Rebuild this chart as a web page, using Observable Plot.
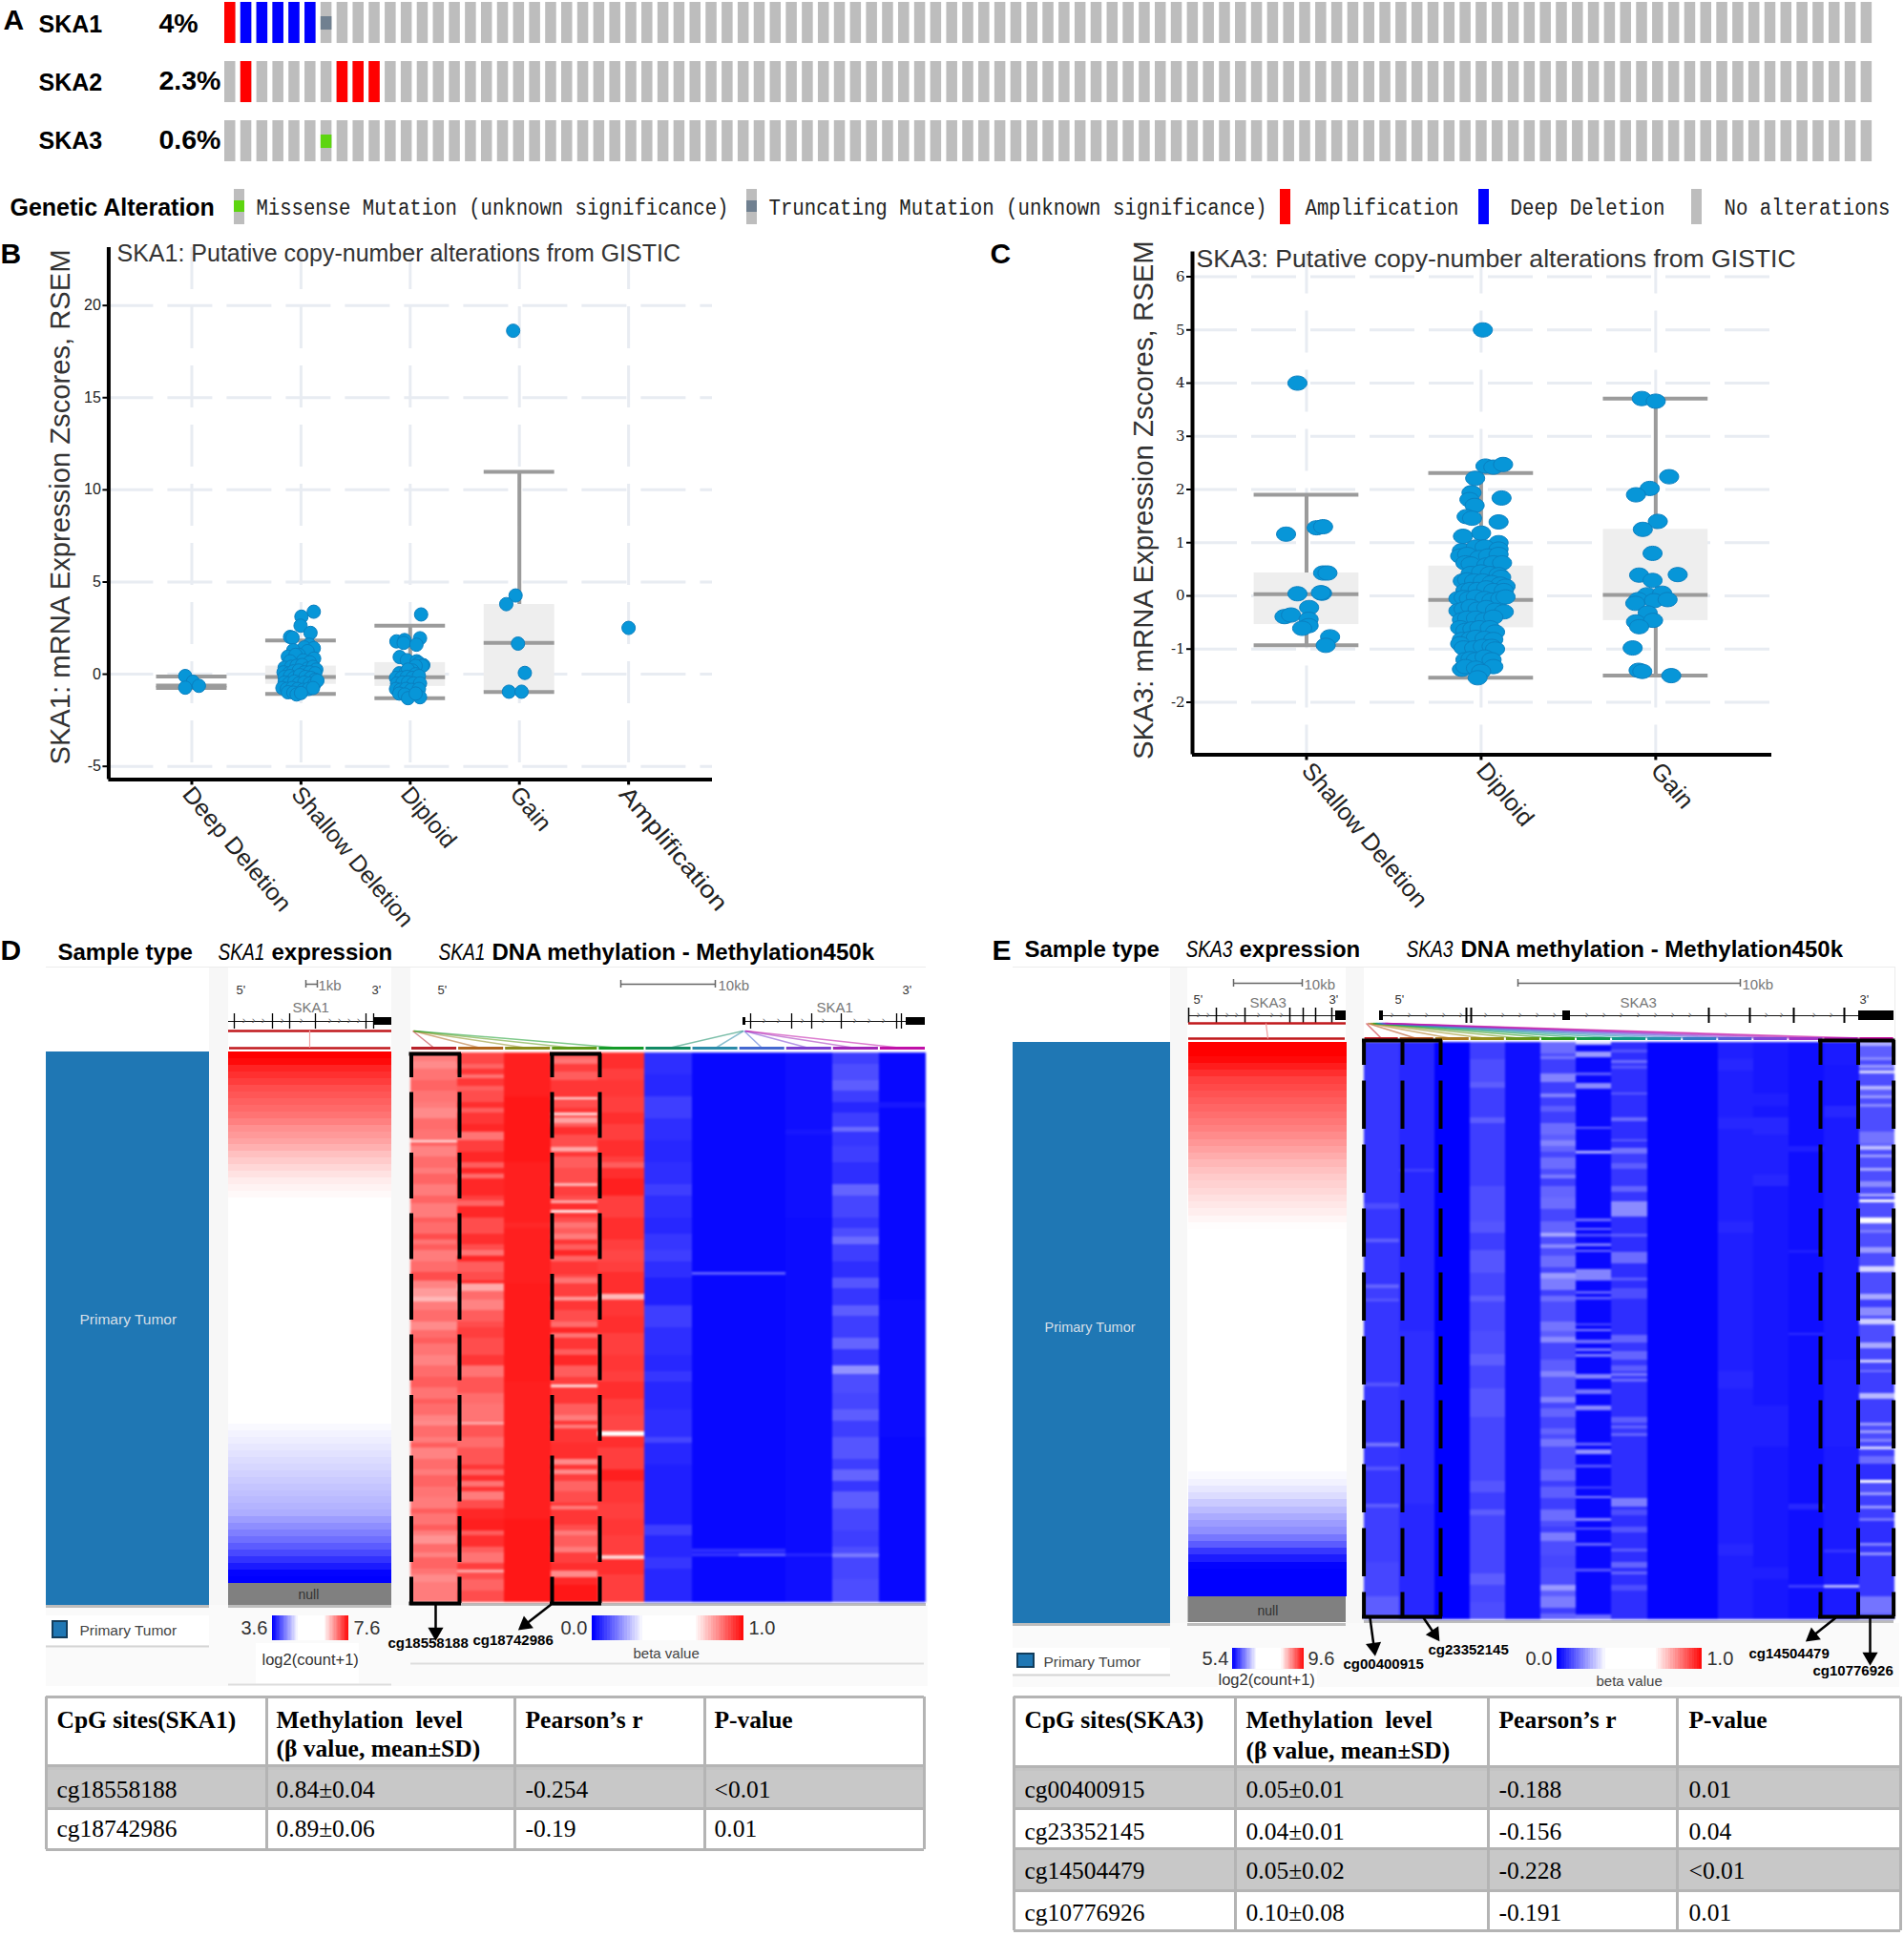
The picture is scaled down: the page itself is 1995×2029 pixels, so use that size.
<!DOCTYPE html>
<html><head><meta charset="utf-8">
<script src="https://cdn.jsdelivr.net/npm/d3@7"></script>
<script src="https://cdn.jsdelivr.net/npm/@observablehq/plot@0.6"></script>
<style>html,body{margin:0;padding:0;background:#fff}#page{position:relative;width:1995px;height:2029px;overflow:hidden}</style>
</head><body><div id="page"></div>
<script>
// ---------- Panel A
const sampleCount = 103;
const genes = ["SKA1","SKA2","SKA3"];
const pctAltered = ["4%","2.3%","0.6%"];
const amplified = [[0,0],[1,1],[1,7],[1,8],[1,9]];
const deepDeleted = [[0,1],[0,2],[0,3],[0,4],[0,5]];
const truncating = [[0,6]];
const missense = [[2,6]];
// ---------- Panel B
const catsB = ["Deep Deletion","Shallow Deletion","Diploid","Gain","Amplification"];
const hiB = [-.12,1.83,2.63,10.98,null];
const q3B = [-.55,.44,.63,3.78,null];
const medB = [-.62,-.15,-.17,1.7,null];
const q1B = [-.68,-.55,-.66,-.97,null];
const loB = [-.75,-1.07,-1.3,-.97,null];
const ptsB0 = [[-.06,-.1],[.01,-.41],[.065,-.63],[-.06,-.73]];
const ptsB1 = [[.117,3.39],[.004,3.12],[-.004,2.63],[.087,2.24],[-.1,2.02],[-.078,1.98],[.074,1.6],[.03,1.45],[.117,1.41],[-.07,1.3],[.06,1.25],[-.02,1.05],[-.12,.95],[-.05,1.05],[.12,.85],[.02,.75],[-.1,.7],[.08,.65],[-.15,.35],[-.09,.4],[-.04,.45],[.01,.5],[.06,.3],[.11,.4],[.14,.25],[-.16,.1],[-.11,.05],[-.07,.15],[-.02,.2],[.03,.1],[.08,.1],[.13,.05],[-.15,-.15],[-.1,-.1],[-.06,-.2],[-.01,-.05],[.04,-.15],[.09,-.2],[.13,-.3],[-.15,-.45],[-.11,-.5],[-.06,-.4],[-.02,-.5],[.03,-.45],[.08,-.5],[.12,-.55],[.15,-.35],[-.17,-.75],[-.13,-.8],[-.08,-.75],[-.03,-.8],[.02,-.85],[.07,-.8],[.11,-.75],[-.12,-.98],[-.07,-1],[-.04,-1.1],[0,-1.02]];
const ptsB2 = [[.1,3.24],[.09,1.95],[-.126,1.78],[-.052,1.85],[-.06,1.7],[.057,1.6],[-.096,.93],[-.03,.76],[.06,.7],[.08,.6],[.12,.49],[.11,.45],[.05,.45],[-.1,.05],[-.04,.1],[.02,.2],[-.02,.25],[.05,0],[-.13,-.2],[-.08,-.2],[-.03,-.15],[.02,-.2],[.08,-.1],[-.12,-.5],[-.07,-.45],[-.02,-.45],[.03,-.5],[.09,-.5],[-.13,-.8],[-.09,-.85],[-.04,-.8],[.01,-.85],[.08,-.8],[-.1,-1.05],[-.05,-1.1],[-.02,-1.3],[.09,-1.25],[.05,-1.05]];
const ptsB3 = [[-.057,18.63],[-.035,4.27],[-.12,3.8],[-.013,1.66],[.05,.07],[-.096,-.95],[.02,-.95]];
const ptsB4 = [[0,2.51]];
// ---------- Panel C
const catsC = ["Shallow Deletion","Diploid","Gain"];
const hiC = [1.9,2.31,3.71];
const q3C = [.43,.56,1.25];
const medC = [.03,-.076,.017];
const q1C = [-.54,-.6,-.465];
const loC = [-.93,-1.54,-1.5];
const ptsC0 = [[-.052,4],[-.117,1.16],[.058,1.28],[.095,1.3],[.095,.43],[.12,.43],[-.052,.04],[.089,.05],[.082,.06],[.015,-.22],[-.126,-.39],[-.089,-.36],[.012,-.44],[.012,-.56],[-.025,-.61],[.135,-.77],[.11,-.93]];
const ptsC1 = [[.01,5],[.025,2.44],[.07,2.42],[.126,2.47],[-.034,2.21],[-.055,1.94],[-.067,1.81],[.117,1.84],[-.037,1.7],[-.083,1.49],[-.052,1.46],[.1,1.39],[0,1.18],[-.104,1.12],[.1,1],[-.11,.85],[-.03,.92],[.02,.92],[.1,.88],[-.12,.75],[-.08,.78],[-.01,.72],[.04,.75],[.1,.78],[-.09,.62],[-.06,.6],[.03,.58],[.07,.62],[.12,.62],[-.06,.42],[0,.45],[.05,.42],[.1,.4],[.115,.35],[-.105,.28],[-.08,.3],[-.04,.28],[.01,.28],[.06,.25],[.11,.22],[.14,.18],[-.09,.1],[-.06,.12],[-.02,.12],[.03,.15],[.07,.1],[.13,.1],[-.13,-.05],[-.1,-.03],[-.07,-.05],[-.03,-.02],[.02,-.05],[.06,-.08],[.11,-.05],[.14,-.02],[-.13,-.28],[-.1,-.25],[-.06,-.2],[-.02,-.25],[.03,-.22],[.08,-.27],[.13,-.3],[-.11,-.45],[-.08,-.42],[-.03,-.42],[.02,-.45],[.07,-.4],[-.12,-.6],[-.09,-.65],[-.05,-.62],[-.01,-.6],[.05,-.6],[.08,-.68],[-.11,-.82],[-.06,-.8],[-.03,-.78],[.02,-.8],[.07,-.82],[-.12,-.9],[-.1,-.98],[-.04,-.98],[.01,-.95],[.06,-.95],[.08,-1],[-.09,-1.2],[-.06,-1.18],[-.03,-1.2],[.02,-1.15],[.06,-1.2],[.07,-1.33],[-.11,-1.38],[-.09,-1.33],[-.03,-1.36],[0,-1.42],[-.02,-1.54]];
const ptsC2 = [[-.08,3.71],[0,3.66],[.077,2.24],[-.034,2.02],[-.113,1.9],[.012,1.4],[-.074,1.25],[-.018,.8],[-.095,.39],[.126,.4],[-.018,.29],[-.05,.02],[.037,.05],[-.1,-.07],[-.117,-.14],[-.01,-.09],[.068,-.07],[-.046,-.32],[-.113,-.49],[-.015,-.46],[-.095,-.58],[-.132,-.98],[-.098,-1.4],[-.077,-1.42],[.089,-1.5]];
// ---------- Panels D and E: expression, top to bottom
const exprD = [7.6,7.55,7.42,7.35,7.28,7.2,7.15,7.1,7.05,7,6.93,6.85,6.8,6.75,6.68,6.6,6.54,6.48,6.42,6.37,6.33,6.3,
  6.25,6.2,6.15,6.1,6.05,6,5.96,5.92,5.88,5.84,5.8,5.76,5.72,5.68,5.64,5.6,5.56,5.52,5.48,5.44,5.4,5.36,5.32,5.28,5.24,5.2,5.16,5.12,5.08,5.04,5,4.98,4.96,4.94,
  4.9,4.87,4.84,4.81,4.78,4.75,4.72,4.69,4.66,4.63,4.6,4.57,4.54,4.5,4.42,4.34,4.26,4.18,4.08,3.98,3.86,3.74,3.62,3.6];
const exprE = [9.6,9.6,9.55,9.45,9.35,9.25,9.2,9.15,9.1,9.05,9,8.95,8.9,8.84,8.78,8.72,8.66,8.6,8.55,8.5,8.46,8.42,8.38,8.34,8.3,8.26,8.22,
  8.18,8.14,8.1,8.06,8.02,7.98,7.94,7.9,7.86,7.82,7.78,7.74,7.7,7.66,7.62,7.58,7.54,7.5,7.46,7.42,7.38,7.34,7.3,7.26,7.22,7.18,7.14,7.1,7.06,7.02,6.98,6.94,6.9,6.86,6.8,6.76,6.72,
  6.66,6.6,6.5,6.42,6.33,6.25,6.18,6.05,5.9,5.7,5.55,5.42,5.4,5.4,5.4,5.4];
// ---------- methylation columns: runs of [first row, beta], rows 0-100
const dM0 = [[0,.84],[1.5,.82],[3,.85],[5,.87],[7,.85],[9,.84],[10,.82],[12,.86],[14,.85],[16,.7],[16.4,.87],[17,.83],[19,.86],[21,.84],[22,.87],[24,.84],[26,.87],[27.5,.84],[30,.88],[31,.86],[33,.9],[34,.85],[35,.88],[36,.84],[38,.86],[40,.9],[41.5,.83],[43,.8],[44.5,.76],[45.3,.84],[47,.86],[49,.82],[50.5,.86],[52,.88],[53,.85],[55,.83],[57,.86],[59,.88],[61,.85],[63,.88],[64,.86],[66,.83],[67,.82],[68,.86],[70,.84],[71,.88],[72,.83],[74,.86],[76,.84],[77,.87],[79,.85],[81,.84],[83,.88],[84,.85],[86,.88],[87,.84],[88,.81],[89.5,.86],[91,.83],[92,.87],[94,.85],[95,.82],[96.5,.84]];
const dM1 = [[0,.91],[2,.87],[3,.93],[4,.85],[4.7,.93],[6,.88],[7,.9],[9,.94],[10,.88],[11,.93],[13,.95],[14.5,.85],[16,.92],[18,.95],[20,.88],[21,.95],[22,.86],[23,.95],[26,.92],[27,.87],[28,.95],[30,.9],[33,.94],[35,.9],[36,.85],[37,.95],[38,.88],[40,.9],[41.5,.95],[42,.78],[43.5,.86],[45,.83],[47,.88],[49,.9],[50,.92],[52,.9],[55,.93],[57,.85],[59,.89],[62,.86],[64,.85],[67,.87],[67.3,.78],[67.8,.89],[70,.86],[72,.89],[75,.93],[76,.87],[77,.94],[78,.85],[79,.93],[80,.84],[81.5,.9],[83,.95],[85,.96],[87,.88],[88,.94],[90,.88],[91,.85],[93,.92],[94.2,.78],[94.7,.9],[96,.87],[98,.9]];
const dM2 = [[0,.96],[8,.97],[20,.96],[31,.95],[32,.96],[42,.965],[60,.96],[85,.97]];
const dM3 = [[0,.88],[1,.85],[2,.92],[3.5,.88],[5,.93],[8.2,.7],[8.6,.9],[10,.93],[10.9,.72],[11.4,.92],[11.9,.79],[12.8,.88],[13.5,.94],[15,.9],[17.2,.78],[18,.93],[19,.88],[21,.9],[23.8,.76],[24.3,.92],[26,.9],[27,.78],[27.5,.94],[28.7,.7],[29.2,.93],[30,.9],[31,.85],[32,.88],[33,.84],[34,.93],[35,.88],[36,.95],[37,.87],[38,.93],[40.5,.9],[41,.85],[42,.92],[44.5,.8],[45.2,.93],[47,.9],[49,.86],[50,.95],[51,.85],[52,.93],[54,.88],[55,.95],[57,.88],[59,.92],[60.5,.72],[61,.93],[64,.88],[66,.84],[67,.93],[67.8,.84],[68.5,.93],[71,.94],[74,.82],[75,.93],[76,.82],[76.8,.92],[78,.87],[80,.9],[82,.93],[82.5,.84],[83.2,.93],[86,.9],[87,.84],[88,.88],[90,.84],[91,.92],[93,.94],[94.3,.82],[95.5,.95],[97,.97]];
const dM4 = [[0,.94],[3,.92],[5,.93],[8,.92],[11,.94],[13,.92],[16,.94],[19,.92],[20,.88],[21,.94],[23,.96],[26,.92],[30,.94],[34,.92],[36,.91],[38,.92],[40,.94],[44,.76],[45,.93],[48,.94],[51,.92],[55,.93],[58,.92],[60,.94],[63,.92],[66,.91],[69,.67],[69.8,.94],[72,.92],[76,.96],[78,.93],[82,.92],[85,.93],[88,.92],[91.6,.72],[92.2,.94],[95,.92]];
const dM5 = [[0,.06],[4,.05],[8,.08],[12,.06],[16,.05],[20,.06],[24,.08],[26,.06],[30,.05],[33,.07],[36,.08],[38,.06],[41,.04],[46,.08],[50,.06],[55,.05],[58,.07],[60,.05],[65,.06],[70,.09],[71,.05],[75,.04],[82,.04],[86,.08],[88,.05],[92,.07],[94,.05]];
const dM6 = [[0,.01],[40,.12],[40.5,.01],[90.3,.06],[91,.01],[91.2,.07],[91.8,.01]];
const dM7 = [[0,.01],[40,.12],[40.5,.01],[90.3,.06],[91,.01],[91.2,.12],[91.8,.01]];
const dM8 = [[0,.02],[14,.03],[15,.02],[30,.015],[91.3,.05],[91.8,.02]];
const dM9 = [[0,.08],[2,.1],[5,.12],[7,.08],[9,.05],[11,.08],[13.5,.14],[14.5,.07],[17,.08],[20,.06],[24,.13],[26,.09],[30,.07],[32,.1],[33.5,.14],[35,.08],[38,.06],[41,.11],[43,.07],[46,.12],[48,.08],[52,.13],[54,.07],[57,.19],[58.5,.1],[62,.09],[65,.12],[67,.08],[70,.11],[74,.08],[76,.13],[78,.07],[80,.12],[83,.09],[87,.08],[90,.1],[91.3,.16],[92,.09],[96,.1]];
const dM10 = [[0,.01],[9,.03],[10,.01],[45,.015],[70,.01]];
const eM0 = [[0,.07],[28,.1],[29,.07],[34,.12],[34.7,.07],[42,.13],[42.6,.08],[44.4,.11],[45,.07],[59,.11],[59.6,.07],[69.4,.15],[70,.07],[73.6,.11],[74.2,.07],[80,.12],[80.7,.08],[90,.09],[96,.12]];
const eM1 = [[0,.05],[22,.08],[22.4,.05],[50,.06],[80,.05]];
const eM2 = [[0,0]];
const eM3 = [[0,.08],[3,.1],[7,.12],[8,.08],[13,.12],[14,.08],[25,.1],[31,.11],[33,.08],[36,.11],[40,.09],[44,.12],[45,.09],[50,.1],[54,.12],[56,.09],[60,.11],[65,.09],[76,.11],[78,.08],[81,.12],[82,.09],[92,.12],[94,.09],[97,.1]];
const eM4 = [[0,.02]];
const eM5 = [[0,.14],[2,.1],[2.5,.15],[3,.08],[5.5,.17],[7,.08],[9,.17],[9.6,.08],[11,.12],[12,.08],[14,.14],[16,.12],[17,.17],[18,.13],[19,.09],[20,.14],[22,.1],[23,.16],[23.7,.08],[25,.13],[27,.14],[29,.09],[31,.13],[33,.22],[33.7,.1],[35,.18],[35.7,.1],[37,.14],[39,.09],[40,.2],[41,.16],[43,.08],[44,.14],[45,.1],[48.5,.15],[50,.12],[51,.18],[52,.09],[55,.12],[57,.17],[58,.11],[61.5,.17],[62.5,.09],[63.5,.13],[65,.09],[67,.13],[68,.1],[68.7,.15],[70,.1],[74,.13],[76,.08],[77,.12],[79,.08],[81,.14],[83,.1],[84,.08],[85,.16],[86.5,.1],[89,.09],[91,.1],[94,.2],[95,.12],[96,.16],[98,.08],[99,.13]];
const eM6 = [[0,.26],[.5,.01],[1.7,.2],[2.6,.01],[5.3,.12],[5.8,.01],[7.1,.18],[8.1,.01],[14.7,.12],[15.1,.01],[18.8,.22],[19.3,.01],[30.5,.14],[31.1,.01],[32.2,.14],[32.6,.01],[33.3,.1],[33.7,.01],[34.9,.16],[35.4,.01],[36,.14],[36.4,.01],[39.3,.17],[41.4,.01],[43.2,.12],[43.7,.01],[44.2,.12],[44.6,.01],[48.7,.1],[49.1,.01],[49.7,.17],[50.1,.01],[51.5,.14],[52.2,.01],[53,.15],[53.5,.01],[54,.16],[54.5,.01],[57.5,.17],[58.3,.01],[60.2,.15],[61,.01],[63,.18],[63.8,.01],[69.4,.13],[69.9,.01],[70.5,.19],[71.4,.01],[73.3,.11],[73.7,.01],[77,.09],[77.4,.01],[78.6,.17],[79,.01],[82.5,.17],[83,.01],[84.1,.12],[84.5,.01],[86.8,.13],[87.2,.01],[91.3,.11],[91.7,.01],[99.1,.14]];
const eM7 = [[0,.06],[1.4,.11],[1.8,.06],[3.2,.14],[3.7,.07],[4.2,.11],[4.6,.06],[8.7,.12],[9.1,.06],[13.1,.14],[13.7,.06],[16.8,.12],[17.2,.06],[18.4,.15],[19.3,.08],[21,.12],[22,.07],[25,.13],[26,.07],[27.6,.18],[30.2,.06],[33.3,.12],[33.7,.06],[36.3,.14],[38.4,.06],[40.8,.12],[41.4,.06],[42.7,.1],[44.5,.06],[50.8,.13],[52,.07],[53.5,.13],[55,.07],[56,.12],[57,.07],[57.4,.15],[57.8,.07],[58.4,.14],[58.9,.06],[65,.12],[66,.07],[66.5,.13],[66.9,.07],[67.8,.13],[68.2,.06],[79,.16],[80.5,.06],[81,.1],[82,.06],[84,.11],[85,.06],[87.8,.12],[88.2,.06],[90,.13],[91,.06],[91.8,.13],[92.3,.06],[94,.1],[95,.06]];
const eM8 = [[0,.005]];
const eM9 = [[0,.005]];
const eM10 = [[0,.04],[3,.05],[5,.04],[13,.05],[15,.04],[31,.05],[33,.04],[57,.05],[60,.04],[87,.05],[89,.04]];
const eM11 = [[0,.03],[9,.04],[11,.03],[13,.05],[16,.04],[23,.05],[25,.03],[63,.04],[70,.03],[91,.04],[93,.03]];
const eM12 = [[0,.02],[18,.04],[19,.02],[36,.04],[36.5,.02],[50.4,.06],[50.8,.02],[80,.05],[81,.02],[94,.08],[94.5,.02]];
const eM13 = [[0,.035],[4,.03],[11,.05],[13,.035],[55,.04],[70,.035],[88,.07],[88.4,.035],[94,.24],[94.5,.035]];
const eM14 = [[0,.12],[.2,.24],[.7,.12],[2.6,.18],[3.2,.1],[4,.2],[4.4,.12],[5,.28],[5.5,.1],[7.6,.24],[8.2,.12],[9.2,.2],[9.7,.1],[10.8,.18],[11.3,.1],[15.5,.15],[17.5,.13],[18,.25],[18.6,.1],[19.5,.2],[20,.1],[21.8,.22],[22.3,.1],[24.2,.18],[25.2,.1],[26.3,.22],[26.8,.08],[27.3,.33],[27.8,.1],[30.4,.33],[31.4,.12],[32.5,.16],[33,.1],[35.5,.2],[36.5,.1],[38.8,.28],[39.8,.1],[43.7,.22],[44.7,.08],[46,.18],[47.5,.1],[48,.27],[49,.1],[52,.22],[53,.09],[55,.27],[55.6,.09],[56.8,.15],[57.2,.08],[60.8,.24],[61.8,.08],[66,.2],[66.5,.1],[67.2,.2],[67.7,.1],[68.8,.17],[69.2,.09],[70,.28],[70.5,.08],[71.8,.14],[73,.06],[75.9,.33],[76.3,.1],[78,.2],[78.5,.08],[80.4,.2],[80.8,.08],[82.5,.15],[83,.06],[86.8,.17],[87.3,.07],[88.5,.19],[88.9,.07],[96,.15],[99,.12]];
const methD = [dM0,dM1,dM2,dM3,dM4,dM5,dM6,dM7,dM8,dM9,dM10];
const methE = [eM0,eM1,eM2,eM3,eM4,eM5,eM6,eM7,eM8,eM9,eM10,eM11,eM12,eM13,eM14];
// ---------- tables
const headD = ["CpG sites(SKA1)","Methylation  level","Pearson’s r","P-value"];
const headE = ["CpG sites(SKA3)","Methylation  level","Pearson’s r","P-value"];
const headLine2 = "(β value, mean±SD)";
const rowsD = [["cg18558188","0.84±0.04","-0.254","<0.01"],["cg18742986","0.89±0.06","-0.19","0.01"]];
const rowsE = [["cg00400915","0.05±0.01","-0.188","0.01"],["cg23352145","0.04±0.01","-0.156","0.04"],["cg14504479","0.05±0.02","-0.228","<0.01"],["cg10776926","0.10±0.08","-0.191","0.01"]];
const rainbowD = ["#b8222a","#b0641e","#8c8c1c","#5f9a18","#149a28","#128a64","#2a8aa8","#4468d0","#7a40d0","#a028b8","#c010a8"];
const rainbowE = ["#c81e28","#b8501e","#b07a1e","#98901c","#6a981a","#2c9a1e","#129a50","#129a88","#2890b0","#3a78c8","#5a60d8","#8048d8","#a034c8","#b820b4","#c810a0"];
const monoWidths = {"Missense Mutation (unknown significance)":495,"Truncating Mutation (unknown significance)":522,"Amplification":161,"Deep Deletion":162,"No alterations":174};

// ---------- helpers
const page = document.getElementById("page");
const W = 1995, H = 2029;
const SANS = "Liberation Sans", SERIF = "Liberation Serif", MONO = "Liberation Mono";
function put(opts, left, top, extra={}) {
  const svg = Plot.plot({...opts, style:{position:"absolute",left:left+"px",top:top+"px",background:"none",maxWidth:"none",overflow:"visible",...extra}});
  page.appendChild(svg); return svg;
}
function layer(marks) {
  return put({width:W,height:H,margin:0,x:{domain:[0,W],range:[0,W],axis:null},y:{domain:[0,H],range:[0,H],axis:null},marks},0,0);
}
const T = (rows,o={}) => Plot.text(rows,{x:d=>d[1],y:d=>d[2],text:d=>d[0],fontSize:d=>d[3],textAnchor:"start",lineAnchor:"bottom",fontFamily:SANS,fill:"#000",...o});
const R = (rows,fill) => Plot.rect(rows,{x1:d=>d[0],y1:d=>d[1],x2:d=>d[2],y2:d=>d[3],fill});
const HL = (rows,stroke,w,o={}) => Plot.ruleY(rows,{y:d=>d[0],x1:d=>d[1],x2:d=>d[2],stroke,strokeWidth:w,...o});
const VL = (rows,stroke,w,o={}) => Plot.ruleX(rows,{x:d=>d[0],y1:d=>d[1],y2:d=>d[2],stroke,strokeWidth:w,...o});

// ---------- background layer
const table = (xs,ys,fillRows,heads,rows,baseH,baseR,tx) => {
  const x0=xs[0],x1=xs[xs.length-1];
  const m=[];
  m.push(R(fillRows.map(i=>[x0,ys[i+1],x1,ys[i+2]]),"#c8c8c8"));
  m.push(HL([[ys[1]+3,x0,x1]],"#c4c4c4",3));
  ys.forEach(y=>m.push(HL([[y,x0,x1]],"#b4b4b4",3)));
  xs.forEach(x=>m.push(VL([[x,ys[0],ys[ys.length-1]]],"#b4b4b4",3)));
  const cells=[];
  rows.forEach((r,i)=>r.forEach((t,j)=>cells.push([t,tx[j],baseR[i],25.5])));
  m.push(T(cells,{fontFamily:SERIF}));
  m.push(T(heads.map((t,j)=>[t,tx[j],baseH[0],25.5]).concat([[headLine2,tx[1],baseH[1],25.5]]),{fontFamily:SERIF,fontWeight:"bold"}));
  return m;
};
layer([
  R([[48,1682,972,1767]],"#fafafa"),
  R([[219,1013,239,1682],[410,1013,430,1682]],"#f7f7f7"),
  HL([[1013,48,970]],"#ececec",1),
  R([[48,1102,219,1682]],"#1f77b4"),
  HL([[1683,48,219],[1683,239,410],[1681,430,970]],"#bcbcbc",3),
  R([[48,1693,219,1724]],"#ffffff"), HL([[1725,48,219]],"#d4d4d4",2),
  R([[268,1722,376,1765]],"#ffffff"),
  HL([[1743,430,968]],"#dddddd",2), HL([[1765,239,410]],"#dddddd",2),
  R([[1061,1701,1990,1768]],"#fafafa"),
  R([[1226,1013,1244,1701],[1410,1013,1429,1701]],"#f7f7f7"),
  HL([[1013,1061,1985]],"#ececec",1),
  VL([[1985,1013,1090]],"#ececec",1),
  R([[1061,1092,1226,1701]],"#1f77b4"),
  HL([[1702,1061,1226],[1702,1244,1410],[1699,1429,1984]],"#bcbcbc",3),
  R([[1061,1727,1226,1754]],"#ffffff"), HL([[1755,1061,1226]],"#d4d4d4",2),
  R([[1276,1750,1380,1768]],"#ffffff"),
  ...table([48,279,539,738,968],[1778,1850,1895,1938],[0],headD,rowsD,[1810,1840],[1883,1924],[59,289,550,748]),
  ...table([1062,1294,1559,1757,1991],[1778,1851,1895,1937,1981,2023],[0,2],headE,rowsE,[1810,1842],[1883,1927,1968,2012],[1073,1305,1570,1769])
]);

// ---------- Panel A oncoprint
const stepA = 16.81, barA = 11.5/stepA, pitchA = 62;
const allCells = genes.flatMap((g,r)=>d3.range(sampleCount).map(i=>({r,i})));
const cellRect = (data,fill,inner) => Plot.rect(data,{
  x1:d=>d.i, x2:d=>d.i+barA,
  y1:d=>d.r+(inner?.242:0), y2:d=>d.r+(inner?.468:.694), fill});
const asCell = a => a.map(([r,i])=>({r,i}));
put({width:1730,height:170,margin:0,
  x:{domain:[0,1730/stepA],range:[0,1730],axis:null},
  y:{domain:[0,170/pitchA],range:[0,170],axis:null},
  marks:[cellRect(allCells,"#bdbdbd"),cellRect(asCell(amplified),"#ff0000"),cellRect(asCell(deepDeleted),"#0000ff"),
    cellRect(asCell(truncating),"#708090",true),cellRect(asCell(missense),"#5dd50f",true)]},234.7,2);

// ---------- Panels B and C
const gridStyle = {stroke:"#e8ecf2",strokeOpacity:1,strokeWidth:3,strokeDasharray:"44,18"};
const ellipse = {draw(c){const rx=10,ry=7.5,k=.5523;c.moveTo(rx,0);c.bezierCurveTo(rx,k*ry,k*rx,ry,0,ry);c.bezierCurveTo(-k*rx,ry,-rx,k*ry,-rx,0);c.bezierCurveTo(-rx,-k*ry,-k*rx,-ry,0,-ry);c.bezierCurveTo(k*rx,-ry,rx,-k*ry,rx,0);c.closePath();}};
function boxChart({left,top,width,height,mL,mR,mT,mB,xd,yd,cats,ticks,hi,q3,med,q1,lo,pts,half,dot,tickFont,tickSize,title,tx,ty,tsize,ylabel,lx,ly,lsize,adx,ady,afont}) {
  const idx = cats.map((c,i)=>i).filter(i=>hi[i]!=null);
  const points = pts.flatMap((p,i)=>p.map(([dx,v])=>({x:i+dx,v})));
  const lw = 4, lc = "#9b9b9b";
  const catTicks = cats.map((c,i)=>i);
  put({width,height,marginLeft:mL,marginRight:mR,marginTop:mT,marginBottom:mB,
    x:{domain:xd,axis:null},y:{domain:yd,axis:null},
    marks:[
      Plot.gridX(catTicks,gridStyle),
      Plot.gridY(ticks,{...gridStyle,strokeDasharray:"47,15"}),
      Plot.rect(idx,{x1:i=>i-half,x2:i=>i+half,y1:i=>q1[i],y2:i=>q3[i],fill:"#eeeeee"}),
      Plot.ruleX(idx,{x:i=>i,y1:i=>q3[i],y2:i=>hi[i],stroke:lc,strokeWidth:lw}),
      Plot.ruleX(idx,{x:i=>i,y1:i=>lo[i],y2:i=>q1[i],stroke:lc,strokeWidth:lw}),
      ...[hi,med,lo].map(a=>Plot.ruleY(idx,{y:i=>a[i],x1:i=>i-half,x2:i=>i+half,stroke:lc,strokeWidth:lw})),
      Plot.dot(points,{x:"x",y:"v",...dot}),
      Plot.axisY({ticks,tickFormat:d=>String(d),tickSize:6,tickPadding:2,strokeWidth:2,stroke:"#000",fill:"#222",label:null,fontSize:tickSize,fontFamily:tickFont}),
      Plot.axisX({ticks:catTicks,tickFormat:()=>"",tickSize:6,strokeWidth:3,stroke:"#000",label:null}),
      Plot.axisX({ticks:catTicks,tickFormat:i=>cats[i],tickRotate:50,tickSize:0,tickPadding:8,dx:adx,dy:ady,fill:"#222",label:null,fontSize:afont,fontFamily:SANS,textOverflow:null}),
      Plot.ruleX([xd[0]],{stroke:"#000",strokeWidth:4}),
      Plot.ruleY([yd[0]],{stroke:"#000",strokeWidth:4}),
      Plot.text([title],{frameAnchor:"top-left",dx:tx,dy:ty,fontSize:tsize,fontFamily:SANS,fill:"#333",lineAnchor:"bottom",textAnchor:"start"}),
      Plot.text([ylabel],{frameAnchor:"top-left",dx:lx,dy:ly,rotate:-90,fontSize:lsize,fontFamily:SANS,fill:"#333",textAnchor:"middle",lineAnchor:"bottom"})
    ]},left,top);
}
boxChart({left:0,top:240,width:780,height:740,mL:113.4,mR:34,mT:19,mB:163.6,xd:[-.761,4.768],yd:[-5.71,23.14],cats:catsB,ticks:[-5,0,5,10,15,20],
  hi:hiB,q3:q3B,med:medB,q1:q1B,lo:loB,pts:[ptsB0,ptsB1,ptsB2,ptsB3,ptsB4],half:.323,
  dot:{r:7,fill:"#0796d8",stroke:"#0a7fc0",strokeWidth:1},tickFont:SANS,tickSize:16,
  title:"SKA1: Putative copy-number alterations from GISTIC",tx:8.6,ty:14.5,tsize:25,
  ylabel:"SKA1: mRNA Expression Zscores, RSEM",lx:-41,ly:272,lsize:29.2,adx:-5,ady:3,afont:24.6});
boxChart({left:1020,top:240,width:880,height:740,mL:229,mR:44,mT:23.6,mB:189.5,xd:[-.653,2.665],yd:[-2.987,6.465],cats:catsC,ticks:[-2,-1,0,1,2,3,4,5,6],
  hi:hiC,q3:q3C,med:medC,q1:q1C,lo:loC,pts:[ptsC0,ptsC1,ptsC2],half:.3,
  dot:{r:8,symbol:ellipse,fill:"#0796d8",stroke:"#0a7fc0",strokeWidth:1},tickFont:"DejaVu Serif",tickSize:15,
  title:"SKA3: Putative copy-number alterations from GISTIC",tx:4,ty:15.5,tsize:26.6,
  ylabel:"SKA3: mRNA Expression Zscores, RSEM",lx:-41.5,ly:260,lsize:29.4,adx:0,ady:4,afont:25.4});

// ---------- heat columns
function expand(col,i){return col.map(([s,b],k)=>({c:i,y1:s,y2:k+1<col.length?col[k+1][0]:100,b}));}
const betaColor = {type:"linear",domain:[0,.33,.67,1],range:["#0000ff","#ffffff","#ffffff","#ff0000"],interpolate:"rgb"};
function methChart(cols,left,top,w,h){
  put({width:w,height:h,margin:0,x:{domain:[0,cols.length],axis:null},y:{domain:[0,100],range:[0,h],axis:null},color:betaColor,
    marks:[Plot.rect(cols.flatMap(expand),{x1:d=>d.c,x2:d=>d.c+1,y1:"y1",y2:"y2",fill:"b",shapeRendering:"crispEdges"})]},left,top,{filter:"blur(0.8px)"});
}
function exprChart(vals,dom,left,top,w,h){
  put({width:w,height:h,margin:0,x:{domain:[0,1],axis:null},y:{domain:[0,vals.length],range:[0,h],axis:null},
    color:{type:"linear",domain:dom,range:["#0000ff","#ffffff","#ffffff","#ff0000"],interpolate:"rgb"},
    marks:[Plot.rect(vals.map((v,i)=>({i,v})),{x1:0,x2:1,y1:"i",y2:d=>d.i+1,fill:"v",shapeRendering:"crispEdges"})]},left,top);
}
function ramp(dom,left,top,w,h){
  const s=d3.range(dom[0],dom[dom.length-1]+1e-9,(dom[dom.length-1]-dom[0])/60);
  const st=s[1]-s[0];
  put({width:w,height:h,margin:0,x:{domain:[dom[0],dom[dom.length-1]],axis:null},y:{axis:null,domain:[0,1]},
    color:{type:"linear",domain:dom,range:["#0000ff","#ffffff","#ffffff","#ff0000"],interpolate:"rgb"},
    marks:[Plot.rect(s.slice(0,60),{x1:d=>d,x2:d=>d+st,y1:0,y2:1,fill:d=>d,shapeRendering:"crispEdges"})]},left,top);
}
const domD=[3.6,4.93,6.27,7.6], domE=[5.4,6.79,8.21,9.6], domB=[0,.33,.67,1];
exprChart(exprD,domD,239,1102,171,557);
methChart(methD,430,1102.5,540,575.5);
ramp(domD,285,1693,80,26); ramp(domB,620,1693,159,26);
exprChart(exprE,domE,1244.5,1092,165.5,581);
methChart(methE,1428.6,1092,556,605);
ramp(domE,1291,1727,75,22); ramp(domB,1631,1727,152,22);

// ---------- foreground: tracks, boxes, arrows, text
const colLink = (n,x0,w,sources,yA,yB,rainbow) => d3.range(n).map(i=>({x1:sources(i),y1:yA,x2:x0+w*(i+.5),y2:yB,c:rainbow[i]}));
const linksD = colLink(11,430,540/11,i=>i<5?432+i*.4:778+(i-5)*.6,1080,1098,rainbowD);
const linksE = colLink(15,1428.6,556/15,i=>1431+i*1.5,1072,1088,rainbowE);
const segs = (n,x0,w,y,rainbow) => d3.range(n).map(i=>({x1:x0+w*i+1,x2:x0+w*(i+1)-1,y,c:rainbow[i]}));
const geneExonsD1 = [[392,410]], geneTicksD1=[245,285,303,330,383,391];
const geneExonsD2 = [[778,781],[949,969]], geneTicksD2=[786,829,850,881,939,944];
const geneExonsE1 = [[1399,1410]], geneTicksE1=[1245,1274,1304,1351,1365,1378,1395];
const geneExonsE2 = [[1445,1449],[1637,1645],[1947,1984]], geneTicksE2=[1536,1541,1790,1833,1879,1932];
const chevD1 = [255,265,275,295,315,345,355,365,375], chevD2 = [800,815,840,862,895,910,925];
const chevE1 = [1255,1265,1285,1295,1318,1332,1342], chevE2 = [1458,1476,1494,1512,1530,1556,1574,1592,1610,1628,1662,1680,1698,1716,1734,1752,1770,1808,1850,1866,1900,1918];
const arrows = [[456,1681,456,1716],[577,1681,545,1706],[1435,1695,1440,1732],[1491,1695,1506,1717],[1923,1695,1894,1718],[1959,1695,1959,1742]];
const headBack = 6;
const headAt = d => { const a=d[2]-d[0], b=d[3]-d[1], l=Math.hypot(a,b); return [d[2]-a/l*headBack, d[3]-b/l*headBack]; };
const dashBoxD = [430.5,481,578,628], dashBoxE=[1428.6,1469,1509,1907,1946.5,1983.6];
const small = (rows,fill)=>T(rows,{fill});
const chev = (xs,y) => Plot.text(xs,{x:d=>d,y,text:()=>"›",fontSize:11,fontFamily:SANS,fill:"#555"});
layer([
  R([[245,198,256,235],[782,198,793,235],[1772,198,1783,235]],"#bdbdbd"),
  R([[245,210,256,222]],"#5dd50f"), R([[782,210,793,222]],"#708090"),
  R([[1341,198,1352,235]],"#ff0000"), R([[1549,198,1560,235]],"#0000ff"),
  T([["A",3,30,30],["B",0,275,30],["C",1037,275,30],["D",0,1005,30],["E",1039,1005,30],
     ...genes.map((g,i)=>[g,40,[33,94,155][i],25]),
     ...pctAltered.map((g,i)=>[g,166,[33,93,155][i],28.5]),
     ["Genetic Alteration",10,225,25],
     ["Sample type",60,1005,24],["expression",284,1005,24],["DNA methylation - Methylation450k",515,1005,24],
     ["Sample type",1073,1002,24],["expression",1298,1002,24],["DNA methylation - Methylation450k",1530,1002,24],
     ["cg18558188",406,1726,15],["cg18742986",495,1723,15],
     ["cg00400915",1407,1748,15],["cg23352145",1496,1733,15],["cg14504479",1832,1737,15],["cg10776926",1899,1755,15]],{fontWeight:"bold"}),
  T([["SKA1",228,1005,24],["SKA1",459,1005,24],["SKA3",1242,1002,24],["SKA3",1473,1002,24]],{fontStyle:"italic"}),
  T(Object.keys(monoWidths).map((t,i)=>[t,[268,805,1367,1582,1806][i],224,23]),{fontFamily:MONO,fill:"#222"}),
  small([["Primary Tumor",83,1387,15.5],["Primary Tumor",1094,1395,14.5]],"#d5dfe8"),
  small([["Primary Tumor",83,1713,15.5],["Primary Tumor",1093,1746,15.5]],"#444"),
  small([["5'",247,1041,13],["3'",389,1041,13],["5'",458,1041,13],["3'",945,1041,13],["5'",1250,1051,13],["3'",1392,1051,13],["5'",1461,1051,13],["3'",1948,1051,13]],"#333"),
  small([["1kb",333,1037,15],["10kb",752,1037,15],["SKA1",306,1060,15],["SKA1",855,1060,15],
         ["10kb",1366,1036,15],["10kb",1825,1036,15],["SKA3",1309,1055,15],["SKA3",1697,1055,15]],"#777"),
  T([["3.6",252,1712,20],["7.6",370,1712,20],["0.0",587,1712,20],["1.0",784,1712,20],
     ["5.4",1259,1744,20],["9.6",1370,1744,20],["0.0",1598,1744,20],["1.0",1788,1744,20],
     ["log2(count+1)",274,1744,16.5],["log2(count+1)",1276,1765,16.5]],{fill:"#333"}),
  small([["beta value",663,1737,15],["beta value",1672,1766,15]],"#444"),
  R([[239,1659,410,1682],[1244.5,1673,1410,1700]],"#808080"),
  small([["null",312,1675,14],["null",1317,1692,14]],"#333"),
  R([[54,1698,71,1717],[1065,1732,1084,1748]],"#123d5c"),
  R([[56,1700,69,1715],[1067,1734,1082,1746]],"#1f77b4"),
  HL([[1031,320,332],[1031,650,749],[1030,1292,1364],[1030,1590,1823]],"#666",1.5),
  VL([[320,1027,1035],[332,1027,1035],[650,1027,1035],[749,1027,1035],[1292,1026,1034],[1364,1026,1034],[1590,1026,1034],[1823,1026,1034]],"#666",1.5),
  HL([[1070,239,410],[1070,778,969],[1064,1245,1410],[1064,1446,1984]],"#111",1.2),
  chev(chevD1,1069), chev(chevD2,1069), chev(chevE1,1063), chev(chevE2,1063),
  VL(geneTicksD1.map(x=>[x,1062,1078]),"#000",1.3),
  VL(geneTicksD2.map(x=>[x,1062,1078]),"#000",1.3),
  VL(geneTicksE1.map(x=>[x,1056,1072]),"#000",1.5),
  VL(geneTicksE2.map(x=>[x,1056,1072]),"#000",2),
  R(geneExonsD1.concat(geneExonsD2).map(([a,b])=>[a,1066,b,1074]),"#000"),
  R(geneExonsE1.concat(geneExonsE2).map(([a,b])=>[a,1059,b,1069]),"#000"),
  HL([[1080,239,410],[1098,240,409],[1072,1245,1410],[1088,1245,1409]],"#c0181c",2.5),
  VL([[324,1080,1098]],"#f0a0a0",1.2),
  Plot.link([{a:1326,b:1072,c:1328,d:1088}],{x1:"a",y1:"b",x2:"c",y2:"d",stroke:"#f0a0a0",strokeWidth:1.2}),
  Plot.link(linksD,{x1:"x1",y1:"y1",x2:"x2",y2:"y2",stroke:{value:"c",scale:null},strokeWidth:1.5,strokeOpacity:.55}),
  Plot.link(linksE,{x1:"x1",y1:"y1",x2:"x2",y2:"y2",stroke:{value:"c",scale:null},strokeWidth:1.5,strokeOpacity:.6}),
  Plot.ruleY(segs(11,430,540/11,1098,rainbowD),{y:"y",x1:"x1",x2:"x2",stroke:{value:"c",scale:null},strokeWidth:3}),
  Plot.ruleY(segs(15,1428.6,556/15,1088,rainbowE),{y:"y",x1:"x1",x2:"x2",stroke:{value:"c",scale:null},strokeWidth:3}),
  VL(dashBoxD.map(x=>[x,1104,1680]),"#000",4,{strokeDasharray:"48,15.5",strokeDashoffset:23}),
  HL([[1104,428.5,483],[1680,428.5,483],[1104,576,630],[1680,576,630]],"#000",4),
  VL(dashBoxE.map(x=>[x,1090,1694]),"#000",4,{strokeDasharray:"50.5,16.5",strokeDashoffset:24.5}),
  HL([[1090,1427,1511],[1694,1427,1511],[1090,1905,1985.5],[1694,1905,1985.5]],"#000",4),
  Plot.link(arrows,{x1:d=>d[0],y1:d=>d[1],x2:d=>headAt(d)[0],y2:d=>headAt(d)[1],stroke:"#000",strokeWidth:2.5}),
  Plot.dot(arrows,{x:d=>headAt(d)[0],y:d=>headAt(d)[1],symbol:"triangle",r:6,fill:"#000",rotate:d=>Math.atan2(d[2]-d[0],d[1]-d[3])*180/Math.PI})
]);
// squeeze the narrow faces of the original
page.querySelectorAll("text").forEach(t=>{
  const s=t.textContent, fs=parseFloat(t.getAttribute("font-size"));
  if (monoWidths[s]) { t.setAttribute("textLength",monoWidths[s]); t.setAttribute("lengthAdjust","spacingAndGlyphs"); }
  if ((s==="SKA1"||s==="SKA3")&&fs===24) { t.setAttribute("textLength",49); t.setAttribute("lengthAdjust","spacingAndGlyphs"); }
});
</script></body></html>
